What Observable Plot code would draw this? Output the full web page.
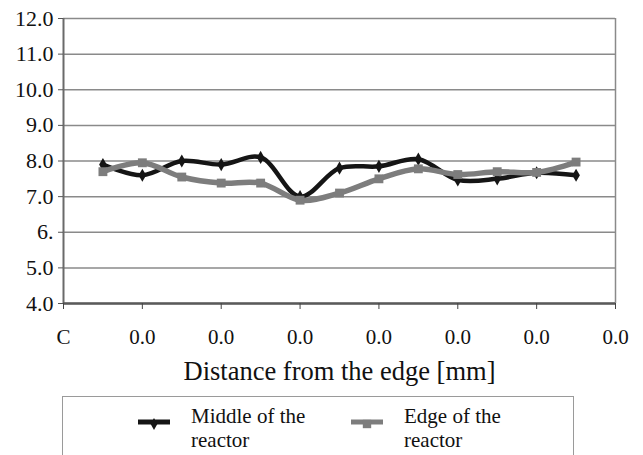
<!DOCTYPE html>
<html>
<head>
<meta charset="utf-8">
<script src="https://cdn.jsdelivr.net/npm/d3@7"></script>
<script src="https://cdn.jsdelivr.net/npm/@observablehq/plot@0.6"></script>
<style>
  html, body { margin: 0; padding: 0; background: #fff; }
  #wrap { position: relative; width: 643px; height: 455px; overflow: hidden; font-family: "Times New Roman"; }
  #legend { position: absolute; left: 62px; top: 396px; width: 512px; height: 80px; border: 1.5px solid #9a9a9a; box-sizing: border-box; }
  .item { position: absolute; top: 0; }
  .item svg { position: absolute; }
  .item .txt { position: absolute; font-family: "Times New Roman"; font-size: 21px; line-height: 24px; color: #111; white-space: nowrap; }
</style>
</head>
<body>
<div id="wrap"></div>
<script>
const distance = [0.5, 1, 1.5, 2, 2.5, 3, 3.5, 4, 4.5, 5, 5.5, 6, 6.5];
const middleOfReactor = [7.9, 7.6, 8.0, 7.9, 8.1, 7.0, 7.8, 7.85, 8.05, 7.47, 7.5, 7.67, 7.6];
const edgeOfReactor = [7.7, 7.95, 7.55, 7.38, 7.38, 6.9, 7.1, 7.5, 7.78, 7.62, 7.7, 7.68, 7.97];
const xTicks = [0, 1, 2, 3, 4, 5, 6, 7];
const xTickLabels = ["C", "0.0", "0.0", "0.0", "0.0", "0.0", "0.0", "0.0"];
const yTicks = [4, 5, 6, 7, 8, 9, 10, 11, 12];
const yTickLabels = ["4.0", "5.0", "6.", "7.0", "8.0", "9.0", "10.0", "11.0", "12.0"];
const seriesNames = ["Middle of the reactor", "Edge of the reactor"];
const xTitle = "Distance from the edge [mm]";

const middleData = distance.map((d, i) => ({x: d, y: middleOfReactor[i]}));
const edgeData = distance.map((d, i) => ({x: d, y: edgeOfReactor[i]}));

const BLACK = "#151515", GRAY = "#7d7d7d", GRID = "#8a8a8a";
const FONT = "Times New Roman";

const chart = Plot.plot({
  width: 643,
  height: 392,
  marginLeft: 63,
  marginRight: 28,
  marginTop: 18,
  marginBottom: 89,
  style: {background: "#fff", color: "#111", fontFamily: FONT},
  x: {domain: [0, 7]},
  y: {domain: [4, 12]},
  marks: [
    Plot.gridY(yTicks, {stroke: GRID, strokeOpacity: 1, strokeWidth: 1.5}),
    Plot.ruleX([7], {stroke: GRID, strokeWidth: 1.5}),
    Plot.ruleX([0], {stroke: "#6a6a6a", strokeWidth: 2}),
    Plot.ruleY([4], {stroke: "#5a5a5a", strokeWidth: 2.5}),
    Plot.axisY({ticks: yTicks, tickFormat: (d) => yTickLabels[yTicks.indexOf(d)], tickSize: 5, tickPadding: 5, fontSize: 22, stroke: "#555", label: null, fontFamily: FONT}),
    Plot.axisX({ticks: xTicks, tickFormat: (d) => xTickLabels[xTicks.indexOf(d)], tickSize: 6, tickPadding: 20, fontSize: 21, stroke: "#444", label: null, fontFamily: FONT}),
    Plot.text([xTitle], {frameAnchor: "bottom", dy: 76, fontSize: 26.5, fill: "#111", text: (d) => d, fontFamily: FONT}),
    Plot.line(middleData, {x: "x", y: "y", stroke: BLACK, strokeWidth: 4.5, curve: "catmull-rom"}),
    Plot.dot(middleData, {x: "x", y: "y", symbol: "diamond", r: 4, fill: BLACK}),
    Plot.line(edgeData, {x: "x", y: "y", stroke: GRAY, strokeWidth: 5.5, curve: "catmull-rom"}),
    Plot.dot(edgeData, {x: "x", y: "y", symbol: "square", r: 5, fill: GRAY})
  ]
});

const wrap = document.getElementById("wrap");
wrap.appendChild(chart);

// Legend
const legend = document.createElement("div");
legend.id = "legend";
const items = [
  {name: seriesNames[0], color: BLACK, symbol: d3.symbolDiamond, sw: 75, tx: 128, size: 40},
  {name: seriesNames[1], color: GRAY, symbol: d3.symbolSquare, sw: 288, tx: 341, size: 70}
];
for (const it of items) {
  const div = document.createElement("div");
  div.className = "item";
  const sv = d3.create("svg").attr("width", 36).attr("height", 20)
    .style("left", it.sw + "px").style("top", "15px");
  sv.append("line").attr("x1", 0).attr("x2", 32).attr("y1", 10).attr("y2", 10)
    .attr("stroke", it.color).attr("stroke-width", 5);
  sv.append("path").attr("d", d3.symbol(it.symbol, it.size)()).attr("transform", "translate(16,12)").attr("fill", it.color);
  div.appendChild(sv.node());
  const parts = it.name.split(" ");
  const txt = document.createElement("div");
  txt.className = "txt";
  txt.style.left = it.tx + "px";
  txt.style.top = "7px";
  txt.innerHTML = parts.slice(0, 3).join(" ") + "<br>" + parts.slice(3).join(" ");
  div.appendChild(txt);
  legend.appendChild(div);
}
wrap.appendChild(legend);
</script>
</body>
</html>
